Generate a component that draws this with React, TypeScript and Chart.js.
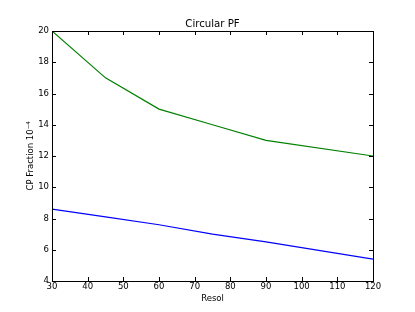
import React, { useEffect, useRef } from "react";
import { Chart, registerables } from "chart.js";

Chart.register(...registerables);

const resol = [30, 45, 60, 75, 90, 120];
const greenSeries = [20, 17, 15, 14, 13, 12];
const blueSeries = [8.6, 8.1, 7.6, 7.0, 6.5, 5.4];
const xTicks = [30, 40, 50, 60, 70, 80, 90, 100, 110, 120];
const yTicks = [4, 6, 8, 10, 12, 14, 16, 18, 20];
const chartTitle = "Circular PF";

const FONT = "'DejaVu Sans', sans-serif";

const frameTicks = {
  id: "frameTicks",
  afterDatasetsDraw(chart: any) {
    const { ctx, chartArea } = chart;
    const { left, right, top, bottom } = chartArea;
    const xs = chart.scales.x;
    const ys = chart.scales.y;
    const len = 4;
    ctx.save();
    ctx.strokeStyle = "#000";
    ctx.lineWidth = 1;
    ctx.beginPath();
    for (const v of xTicks) {
      const px = Math.round(xs.getPixelForValue(v)) + 0.5;
      ctx.moveTo(px, bottom);
      ctx.lineTo(px, bottom - len);
      ctx.moveTo(px, top);
      ctx.lineTo(px, top + len);
    }
    for (const v of yTicks) {
      const py = Math.round(ys.getPixelForValue(v)) + 0.5;
      ctx.moveTo(left, py);
      ctx.lineTo(left + len, py);
      ctx.moveTo(right, py);
      ctx.lineTo(right - len, py);
    }
    ctx.stroke();
    ctx.strokeRect(Math.round(left) + 0.5, Math.round(top) + 0.5, Math.round(right - left), Math.round(bottom - top));
    ctx.fillStyle = "#000";
    ctx.font = `10.2px ${FONT}`;
    ctx.textAlign = "center";
    ctx.textBaseline = "middle";
    ctx.fillText(chartTitle, (left + right) / 2, 24);
    ctx.restore();
  },
};

export default function App() {
  const ref = useRef<HTMLCanvasElement | null>(null);
  useEffect(() => {
    if (!ref.current) return;
    const chart = new Chart(ref.current, {
      type: "line",
      data: {
        datasets: [
          {
            data: resol.map((x, i) => ({ x, y: greenSeries[i] })),
            borderColor: "#008000",
            borderWidth: 1.2,
            pointRadius: 0,
            tension: 0,
          },
          {
            data: resol.map((x, i) => ({ x, y: blueSeries[i] })),
            borderColor: "#0000ff",
            borderWidth: 1.2,
            pointRadius: 0,
            tension: 0,
          },
        ],
      },
      options: {
        animation: false,
        responsive: false,
        maintainAspectRatio: false,
        layout: { padding: { left: 0, right: 42, top: 31, bottom: 0 } },
        plugins: {
          legend: { display: false },
          tooltip: { enabled: false },
          title: { display: false },
        },
        scales: {
          x: {
            type: "linear",
            min: 30,
            max: 120,
            afterBuildTicks: (s: any) => {
              s.ticks = xTicks.map((v) => ({ value: v }));
            },
            afterFit: (s: any) => {
              s.height = 31;
            },
            grid: { display: false, drawTicks: false },
            border: { display: false },
            ticks: {
              color: "#000",
              font: { family: FONT, size: 8.5 },
              padding: 1,
              maxRotation: 0,
              autoSkip: false,
            },
            title: {
              display: true,
              text: "Resol",
              color: "#000",
              font: { family: FONT, size: 8.5 },
              padding: { top: 0, bottom: 8 },
            },
          },
          y: {
            type: "linear",
            min: 4,
            max: 20,
            afterBuildTicks: (s: any) => {
              s.ticks = yTicks.map((v) => ({ value: v }));
            },
            afterFit: (s: any) => {
              s.width = 52;
            },
            grid: { display: false, drawTicks: false },
            border: { display: false },
            ticks: {
              color: "#000",
              font: { family: FONT, size: 8.5 },
              padding: 3,
              autoSkip: false,
            },
            title: {
              display: true,
              text: "CP Fraction 10⁻⁴",
              color: "#000",
              font: { family: FONT, size: 8.5 },
              padding: { top: 26, bottom: 0 },
            },
          },
        },
      },
      plugins: [frameTicks],
    });
    return () => chart.destroy();
  }, []);
  return (
    <div style={{ position: "fixed", left: 0, top: 0, width: 415, height: 312, background: "#fff" }}>
      <canvas ref={ref} width={415} height={312} style={{ width: 415, height: 312, display: "block" }} />
    </div>
  );
}
